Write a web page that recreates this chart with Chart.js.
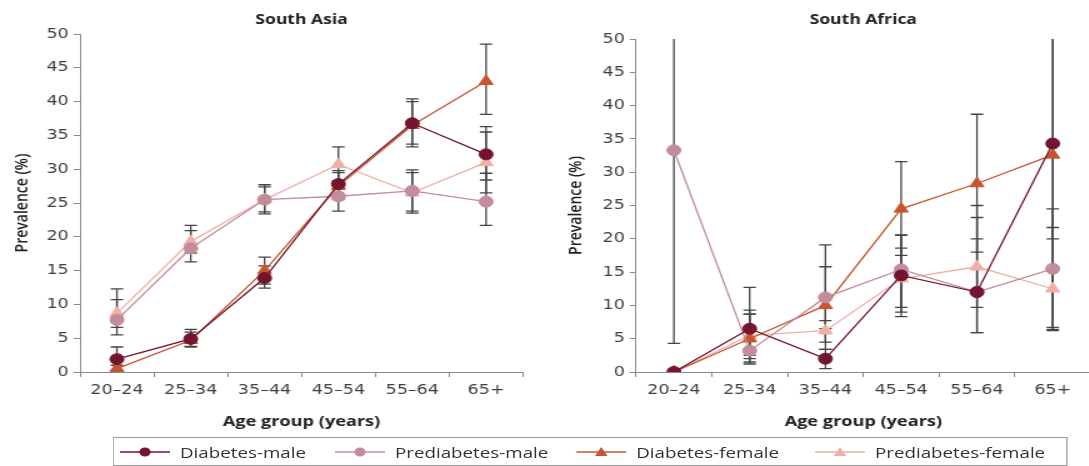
<!DOCTYPE html>
<html>
<head>
<meta charset="utf-8">
<script src="https://cdn.jsdelivr.net/npm/chart.js@4.4.1/dist/chart.umd.min.js"></script>
<style>
html,body{margin:0;padding:0;background:#fff;overflow:hidden;width:1089px;height:466px}
#wrap{position:absolute;left:0;top:0;width:880px;height:466px;transform:scaleX(1.25);transform-origin:0 0}
#c1{position:absolute;left:0;top:0}
#c2{position:absolute;left:448px;top:0}
#legend{position:absolute;left:90px;top:437px;width:762px;height:27px;border:1px solid #9a9a9a;font-family:"Open Sans";font-size:15px;color:#333}
.item{position:absolute;top:0;height:27px;display:flex;align-items:center;white-space:nowrap}
.item svg{margin-right:8px}
</style>
</head>
<body>
<div id="wrap">
  <canvas id="c1" width="430" height="440"></canvas>
  <canvas id="c2" width="432" height="440"></canvas>
  <div id="legend"></div>
</div>
<script>
const ageGroups = ['20–24', '25–34', '35–44', '45–54', '55–64', '65+'];
const seriesNames = ['Diabetes-male', 'Prediabetes-male', 'Diabetes-female', 'Prediabetes-female'];
const seriesColors = ['#74152f', '#c38c9b', '#c8552d', '#f0afa5'];
const seriesMarkers = ['circle', 'circle', 'triangle', 'triangle'];

// South Asia: prevalence and [lower, upper] error bars
const asiaDiabMale = [1.9, 4.9, 13.9, 27.8, 36.8, 32.2];
const asiaPreMale = [7.7, 18.3, 25.5, 26.0, 26.8, 25.2];
const asiaDiabFemale = [0.5, 4.7, 15.0, 27.5, 36.5, 43.0];
const asiaPreFemale = [8.7, 19.3, 25.5, 30.7, 26.5, 31.0];
const asiaDiabMaleErr = [[0.3, 3.7], [3.8, 6.3], [12.4, 15.7], [25.8, 29.8], [33.3, 40.4], [28.4, 36.3]];
const asiaPreMaleErr = [[5.5, 10.7], [16.3, 20.9], [23.4, 27.4], [23.8, 28.3], [23.5, 29.9], [21.7, 29.4]];
const asiaDiabFemaleErr = [[0.0, 1.0], [3.7, 5.9], [13.0, 17.0], [25.5, 29.5], [33.7, 40.0], [38.1, 48.5]];
const asiaPreFemaleErr = [[6.6, 12.3], [17.6, 21.7], [23.7, 27.7], [28.2, 33.3], [23.8, 29.5], [26.5, 35.5]];

// South Africa
const africaDiabMale = [0.0, 6.5, 2.0, 14.5, 12.0, 34.3];
const africaPreMale = [33.3, 3.2, 11.2, 15.4, 12.0, 15.5];
const africaDiabFemale = [0.0, 5.0, 10.0, 24.5, 28.3, 32.6];
const africaPreFemale = [0.0, 5.5, 6.2, 14.0, 15.8, 12.5];
const africaDiabMaleErr = [null, [1.2, 12.7], [0.5, 3.4], [8.3, 20.6], [5.9, 20.0], [6.2, 62.4]];
const africaPreMaleErr = [[4.3, 62.3], [1.5, 8.7], [6.5, 15.8], [9.7, 20.5], [5.9, 23.2], [6.7, 24.5]];
const africaDiabFemaleErr = [null, [2.0, 9.3], [3.4, 19.1], [17.5, 31.6], [18.0, 38.7], [20.0, 55.0]];
const africaPreFemaleErr = [null, [2.5, 8.7], [4.5, 7.7], [9.0, 18.6], [9.7, 25.0], [6.4, 21.7]];

const axisColor = '#8a8a8a';
const tickFont = {family: 'DejaVu Sans', size: 14};

const errorBars = {
  id: 'errorBars',
  beforeDatasetsDraw(chart) {
    const {ctx, chartArea: a, scales: {x, y}} = chart;
    ctx.save();
    ctx.beginPath();
    ctx.rect(a.left, a.top, a.right - a.left, a.bottom - a.top);
    ctx.clip();
    ctx.strokeStyle = '#444';
    ctx.lineWidth = 1.3;
    chart.data.datasets.forEach(ds => {
      ds.err.forEach((e, i) => {
        if (!e) return;
        const px = x.getPixelForValue(i);
        const top = y.getPixelForValue(e[1]);
        const bot = y.getPixelForValue(e[0]);
        ctx.beginPath();
        ctx.moveTo(px, top); ctx.lineTo(px, bot);
        ctx.moveTo(px - 5, top); ctx.lineTo(px + 5, top);
        ctx.moveTo(px - 5, bot); ctx.lineTo(px + 5, bot);
        ctx.stroke();
      });
    });
    ctx.restore();
  }
};

const panelTitle = {
  id: 'panelTitle',
  afterDraw(chart, args, opts) {
    const {ctx, chartArea: a} = chart;
    ctx.save();
    ctx.font = 'bold 14px "Open Sans"';
    ctx.fillStyle = '#222';
    ctx.textAlign = 'center';
    ctx.textBaseline = 'middle';
    ctx.fillText(opts.text, (a.left + a.right) / 2, 20);
    ctx.restore();
  }
};

function makeChart(id, title, values, errs, yWidth, titlePad, padTop, padRight) {
  const datasets = values.map((v, i) => ({
    label: seriesNames[i],
    data: v,
    err: errs[i],
    borderColor: seriesColors[i],
    backgroundColor: seriesColors[i],
    pointBackgroundColor: seriesColors[i],
    pointBorderColor: seriesColors[i],
    pointBorderWidth: 1,
    pointStyle: seriesMarkers[i],
    pointRadius: seriesMarkers[i] === 'circle' ? 5.5 : 6.5,
    borderWidth: 1.3,
    tension: 0
  }));
  return new Chart(document.getElementById(id), {
    type: 'line',
    data: {labels: ageGroups, datasets: datasets},
    options: {
      responsive: false,
      animation: false,
      layout: {padding: {top: padTop, right: padRight, left: 0, bottom: 0}},
      plugins: {legend: {display: false}, tooltip: {enabled: false}, panelTitle: {text: title}},
      scales: {
        x: {
          offset: true,
          grid: {offset: true, drawOnChartArea: false, tickLength: 5, color: axisColor},
          border: {color: axisColor},
          ticks: {font: tickFont, color: '#404040', padding: 5, maxRotation: 0, autoSkip: false},
          title: {display: true, text: 'Age group (years)', color: '#222',
                  font: {family: 'Open Sans', size: 14.5, weight: 'bold'}, padding: {top: 0, bottom: 9.4}},
          afterFit(s) { s.height = 68; }
        },
        y: {
          min: 0, max: 50,
          grid: {drawOnChartArea: false, tickLength: 5, color: axisColor},
          border: {color: axisColor},
          ticks: {stepSize: 5, font: tickFont, color: '#404040', padding: 4},
          title: {display: true, text: 'Prevalence (%)', color: '#222',
                  font: {family: 'Open Sans', size: 14, weight: '600'}, padding: {top: titlePad, bottom: 0}},
          afterFit(s) { s.width = yWidth; }
        }
      }
    },
    plugins: [errorBars, panelTitle]
  });
}

makeChart('c1', 'South Asia',
  [asiaDiabMale, asiaPreMale, asiaDiabFemale, asiaPreFemale],
  [asiaDiabMaleErr, asiaPreMaleErr, asiaDiabFemaleErr, asiaPreFemaleErr],
  64, 10, 34, 11.6);

makeChart('c2', 'South Africa',
  [africaDiabMale, africaPreMale, africaDiabFemale, africaPreFemale],
  [africaDiabMaleErr, africaPreMaleErr, africaDiabFemaleErr, africaPreFemaleErr],
  60.8, 4.8, 39, 1.6);

// legend
const legendLefts = [5, 177, 370, 561];
const legend = document.getElementById('legend');
seriesNames.forEach((name, i) => {
  const c = seriesColors[i];
  const mark = seriesMarkers[i] === 'circle'
    ? `<circle cx="20" cy="7" r="4.5" fill="${c}"/>`
    : `<polygon points="20,2 25,11 15,11" fill="${c}"/>`;
  const el = document.createElement('div');
  el.className = 'item';
  el.style.left = legendLefts[i] + 'px';
  el.innerHTML = `<svg width="40" height="14"><line x1="0" y1="7" x2="40" y2="7" stroke="${c}" stroke-width="1.3"/>${mark}</svg><span>${name}</span>`;
  legend.appendChild(el);
});
</script>
</body>
</html>
